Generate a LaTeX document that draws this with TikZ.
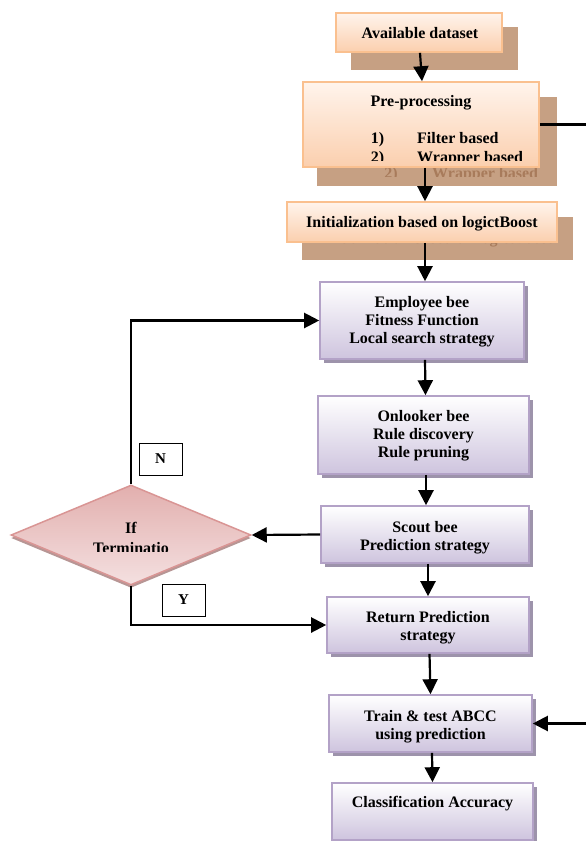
\documentclass[tikz,border=0pt]{standalone}
\usepackage{fontspec}
\setmainfont{Liberation Serif}
\usetikzlibrary{arrows.meta,shapes.geometric,shadows}
\definecolor{oborder}{HTML}{FAC08F}
\definecolor{otop}{HTML}{FFF4EC}
\definecolor{obot}{HTML}{FBCFAE}
\definecolor{oshad}{HTML}{C6A083}
\definecolor{otxtshad}{HTML}{A87B5B}
\definecolor{pborder}{HTML}{B3A2C7}
\definecolor{pbot}{HTML}{CEC4DE}
\definecolor{pshad}{HTML}{9D93AB}
\definecolor{dborder}{HTML}{D99594}
\definecolor{dtop}{HTML}{E2AFAE}
\definecolor{dbot}{HTML}{F4E0E0}
\definecolor{dshad}{HTML}{B79695}
\begin{document}
\begin{tikzpicture}[x=1pt,y=-1pt,
  txt/.style={font=\fontsize{16}{18}\selectfont\bfseries, align=center, inner sep=0pt},
  obox/.style={draw=oborder, line width=1.6pt, top color=otop, bottom color=obot, inner sep=0pt},
  oshadow/.style={fill=oshad, draw=none, inner sep=0pt},
  pbox/.style={draw=pborder, line width=1.6pt, top color=white, bottom color=pbot, inner sep=0pt,
    drop shadow={shadow xshift=3.5pt, shadow yshift=-3.5pt, fill=pshad, opacity=1}},
  lbox/.style={draw=black, line width=1pt, fill=white, minimum width=43pt, minimum height=32pt,
    font=\fontsize{15}{18}\selectfont\bfseries, inner sep=0pt},
  arr/.style={line width=2.2pt, -{Triangle[length=15pt,width=15pt]}},
  ln/.style={line width=2.2pt}
]
\useasboundingbox (0,0) rectangle (586,841);

% ---------- orange boxes: shadows ----------
\node[oshadow, minimum width=167pt, minimum height=43pt] (availsh) at (434.5,48.5) {};
\node[oshadow, minimum width=240pt, minimum height=89pt] (presh) at (437,141.5) {};
\node[oshadow, minimum width=271pt, minimum height=43pt] (initsh) at (437.5,238.5) {};
% shadow texts
\begin{scope}
  \clip (317,160) rectangle (557,176);
  \node[txt, anchor=base, text=otxtshad] (p2nsh) at (391,178.5) {2)};
  \node[txt, anchor=base west, text=otxtshad] (p2tsh) at (432,178.5) {Wrapper based};
\end{scope}
\begin{scope}
  \clip (302,217) rectangle (573,260);
  \node[txt, anchor=base, text=otxtshad] (initsh_t) at (437,243) {Initialization based on logictBoost};
\end{scope}

% ---------- orange boxes ----------
\node[obox, minimum width=166pt, minimum height=39pt] (avail) at (419,32.5) {};
\node[txt, anchor=base] (availt) at (420,38) {Available dataset};

\node[obox, minimum width=236pt, minimum height=85pt] (pre) at (421,124.5) {};
\node[txt, anchor=base] (pret) at (421,106) {Pre-processing};
\begin{scope}
  \clip (304,84) rectangle (538,160.5);
  \node[txt, anchor=base] (p1n) at (377.5,143) {1)};
  \node[txt, anchor=base west] (p1t) at (417,143) {Filter based};
  \node[txt, anchor=base] (p2n) at (377.5,162) {2)};
  \node[txt, anchor=base west] (p2t) at (417,162) {Wrapper based};
\end{scope}

\node[obox, minimum width=270pt, minimum height=40pt] (init) at (422,222) {};
\node[txt, anchor=base] (initt) at (422,227.5) {Initialization based on logictBoost};

% ---------- purple boxes ----------
\node[pbox, minimum width=204pt, minimum height=77pt] (emp) at (422,320.5) {};
\node[txt] (empt) at (422,321.5) {Employee bee\\Fitness Function\\Local search strategy};
\node[pbox, minimum width=211pt, minimum height=78pt] (onl) at (423.5,435) {};
\node[txt] (onlt) at (423.5,436) {Onlooker bee\\Rule discovery\\Rule pruning};
\node[pbox, minimum width=208pt, minimum height=57pt] (scout) at (425,534.5) {};
\node[txt] (scoutt) at (425,537.5) {Scout bee\\Prediction strategy};
\node[pbox, minimum width=202pt, minimum height=56pt] (ret) at (428,625) {};
\node[txt] (rett) at (428,628) {Return Prediction\\strategy};
\node[pbox, minimum width=203pt, minimum height=57pt] (train) at (430.5,723.5) {};
\node[txt] (traint) at (430.5,726.5) {Train \& test ABCC\\using prediction};
\node[pbox, minimum width=201pt, minimum height=57pt] (cls) at (432.5,811.5) {};
\node[txt] (clst) at (432.5,803.5) {Classification Accuracy};

% ---------- decision diamond ----------
\node[diamond, draw=dborder, line width=1.5pt, minimum width=240pt, minimum height=100pt,
  inner sep=0pt, top color=dtop, bottom color=dbot,
  drop shadow={shadow xshift=0pt, shadow yshift=-3pt, fill=dshad, opacity=1}] (dia) at (131,535) {};
\begin{scope}
  \clip (20,500) rectangle (245,551);
  \node[txt, anchor=base] (diat1) at (131,533) {If};
  \node[txt, anchor=base] (diat2) at (131,553.5) {Terminatio};
\end{scope}

% ---------- label boxes ----------
\node[lbox] (nbox) at (160.5,459) {N};
\node[lbox] (ybox) at (183.5,600) {Y};

% ---------- connectors ----------
\draw[arr] ([xshift=1pt]avail.south) -- ([xshift=1pt]pre.north);
\draw[arr] ([xshift=4pt]pre.south) -- ([xshift=3pt]init.north);
\draw[arr] ([xshift=3pt]init.south) -- ([xshift=3pt]emp.north);
\draw[arr] ([xshift=3pt]emp.south) -- ([xshift=2pt]onl.north);
\draw[arr] ([xshift=2.5pt]onl.south) -- ([xshift=1pt]scout.north);
\draw[arr] ([xshift=3pt]scout.south) -- (ret.north);
\draw[arr] ([xshift=1.5pt]ret.south) -- (train.north);
\draw[arr] ([xshift=1.5pt]train.south) -- (cls.north);

\draw[arr] (scout.west) -- (dia.east);
\draw[arr] (dia.north) |- (emp.west);
\draw[arr] (dia.south) |- (ret.west);

\coordinate (offA) at (586,124.5);
\coordinate (offB) at (586,723.5);
\draw[ln] (pre.east) -- (offA);
\draw[arr] (offB) -- (train.east);
\end{tikzpicture}
\end{document}
